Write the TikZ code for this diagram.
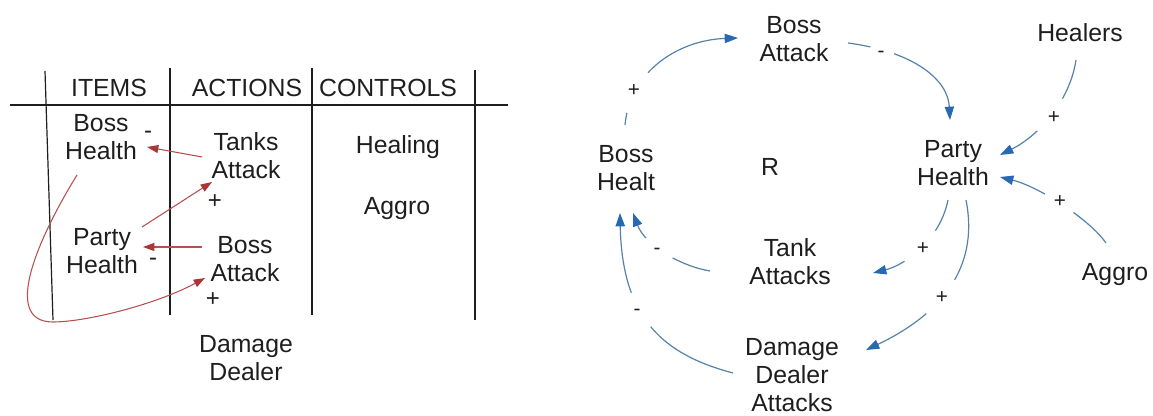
\documentclass[tikz,border=0pt]{standalone}
\usepackage{fontspec}
\setmainfont{Liberation Sans}
\usetikzlibrary{arrows.meta}
\definecolor{ink}{HTML}{1E1E1E}
\definecolor{redlink}{RGB}{180,80,80}
\definecolor{redhead}{RGB}{170,55,55}
\definecolor{bluelink}{RGB}{85,130,170}
\definecolor{bluehead}{RGB}{40,105,175}
\begin{document}
\begin{tikzpicture}[x=0.75pt,y=-0.75pt,
  txt/.style={font=\fontsize{18.6pt}{21pt}\selectfont, text=ink, align=center, inner sep=0pt},
  rule/.style={draw=ink, line width=0.9pt},
  redarrow/.style={draw=redlink, line width=0.8pt, -{Triangle[length=8.5pt,width=6pt,color=redhead]}},
  bluearrow/.style={draw=bluelink, line width=0.9pt, -{Triangle[length=10pt,width=7pt,color=bluehead]}},
  leftsign/.style={font=\fontsize{18pt}{20pt}\selectfont, text=ink, inner sep=0pt},
  signgap/.style={circle, fill=white, inner sep=0pt, font=\fontsize{15.5pt}{17pt}\selectfont, text=ink, minimum size=#1},
]
\useasboundingbox (0,0) rectangle (1153,416);

% ---------- table of items / actions / controls ----------
\draw[rule] (10,105) -- (508,105);
\draw[rule] (45,71) -- (53,320);
\draw[rule] (170,68) -- (170,315);
\draw[rule] (312,68) -- (312,315);
\draw[rule] (475,70) -- (475,320);

\node[txt] (hitems)    at (109,88)  {ITEMS};
\node[txt] (hactions)  at (247,88)  {ACTIONS};
\node[txt] (hcontrols) at (388,88)  {CONTROLS};

\node[txt] (bossH)   at (101,137.5) {Boss\\Health};
\node[txt] (tanksA)  at (246,156)   {Tanks\\Attack};
\node[txt] (healing) at (398,147)   {Healing};
\node[txt] (aggroL)  at (397,209)   {Aggro};
\node[txt] (partyH)  at (102,251)   {Party\\Health};
\node[txt] (bossA)   at (245,259)   {Boss\\Attack};
\node[txt] (damage)  at (246,358.5) {Damage\\Dealer};

\node[leftsign] (ls1) at (148,135) {-};
\node[leftsign] (ls2) at (215,202) {+};
\node[leftsign] (ls3) at (153,262) {-};
\node[leftsign] (ls4) at (213,300) {+};

% red influence arrows
\draw[redarrow] ([shift={(-44,1)}]tanksA.center) -- ([shift={(46,9.5)}]bossH.center);
\draw[redarrow] ([shift={(40,-24)}]partyH.center) -- ([shift={(-34,26)}]tanksA.center);
\draw[redarrow] ([shift={(-43,-12)}]bossA.center) -- ([shift={(41,-4)}]partyH.center);
\coordinate (loopbottom) at (53,322);
\draw[redarrow] ([shift={(-24,37.5)}]bossH.center)
  .. controls +(-37,60) and +(-53,0) .. (loopbottom)
  .. controls +(32,0) and +(-50,27) .. ([shift={(-40,19)}]bossA.center);

% ---------- causal loop diagram ----------
\node[txt] (rBossA)   at (794,39)   {Boss\\Attack};
\node[txt] (rHealers) at (1080,33)  {Healers};
\node[txt] (rBossH)   at (626,168)  {Boss\\Healt};
\node[txt] (rLoop)    at (770,167)  {R};
\node[txt] (rPartyH)  at (953,163)  {Party\\Health};
\node[txt] (rTank)    at (790,262)  {Tank\\Attacks};
\node[txt] (rAggro)   at (1115,275) {Aggro};
\node[txt] (rDamage)  at (792,375)  {Damage\\Dealer\\Attacks};

\draw[bluearrow] ([shift={(-1,-43)}]rBossH.center) .. controls +(5,-55) and +(-58,2) .. ([shift={(-56,-1)}]rBossA.center);
\draw[bluearrow] ([shift={(54,4)}]rBossA.center) .. controls +(67,9) and +(-2,-40) .. ([shift={(-3,-43)}]rPartyH.center);
\draw[bluearrow] ([shift={(-4,27)}]rHealers.center) .. controls +(-6,40) and +(40,-20) .. ([shift={(47,-8)}]rPartyH.center);
\draw[bluearrow] ([shift={(-9,-32)}]rAggro.center) .. controls +(-16,-23) and +(40,10) .. ([shift={(47,14)}]rPartyH.center);
\draw[bluearrow] ([shift={(-5,37)}]rPartyH.center) .. controls +(-8,40) and +(32,-8) .. ([shift={(83,11)}]rTank.center);
\draw[bluearrow] ([shift={(13,37)}]rPartyH.center) .. controls +(12,60) and +(84,-40) .. ([shift={(74,-25)}]rDamage.center);
\draw[bluearrow] ([shift={(-80,9)}]rTank.center) .. controls +(-30,-5) and +(12,32) .. ([shift={(7,45)}]rBossH.center);
\draw[bluearrow] ([shift={(-59,-2)}]rDamage.center) .. controls +(-68,-18) and +(2,107) .. ([shift={(-6,45)}]rBossH.center);

% polarity signs, each breaking its link
\node[signgap=34.5pt] (ga) at (634,91)  {+};
\node[signgap=19.5pt] (gb) at (881,54)  {-};
\node[signgap=31.5pt] (gc) at (1054,118) {+};
\node[signgap=25.5pt] (gd) at (1060,202) {+};
\node[signgap=33pt]   (ge) at (923,249) {+};
\node[signgap=33pt]   (gf) at (942,298) {+};
\node[signgap=25.5pt] (gg) at (657,251) {-};
\node[signgap=30pt]   (gh) at (637,312) {-};
\end{tikzpicture}
\end{document}
